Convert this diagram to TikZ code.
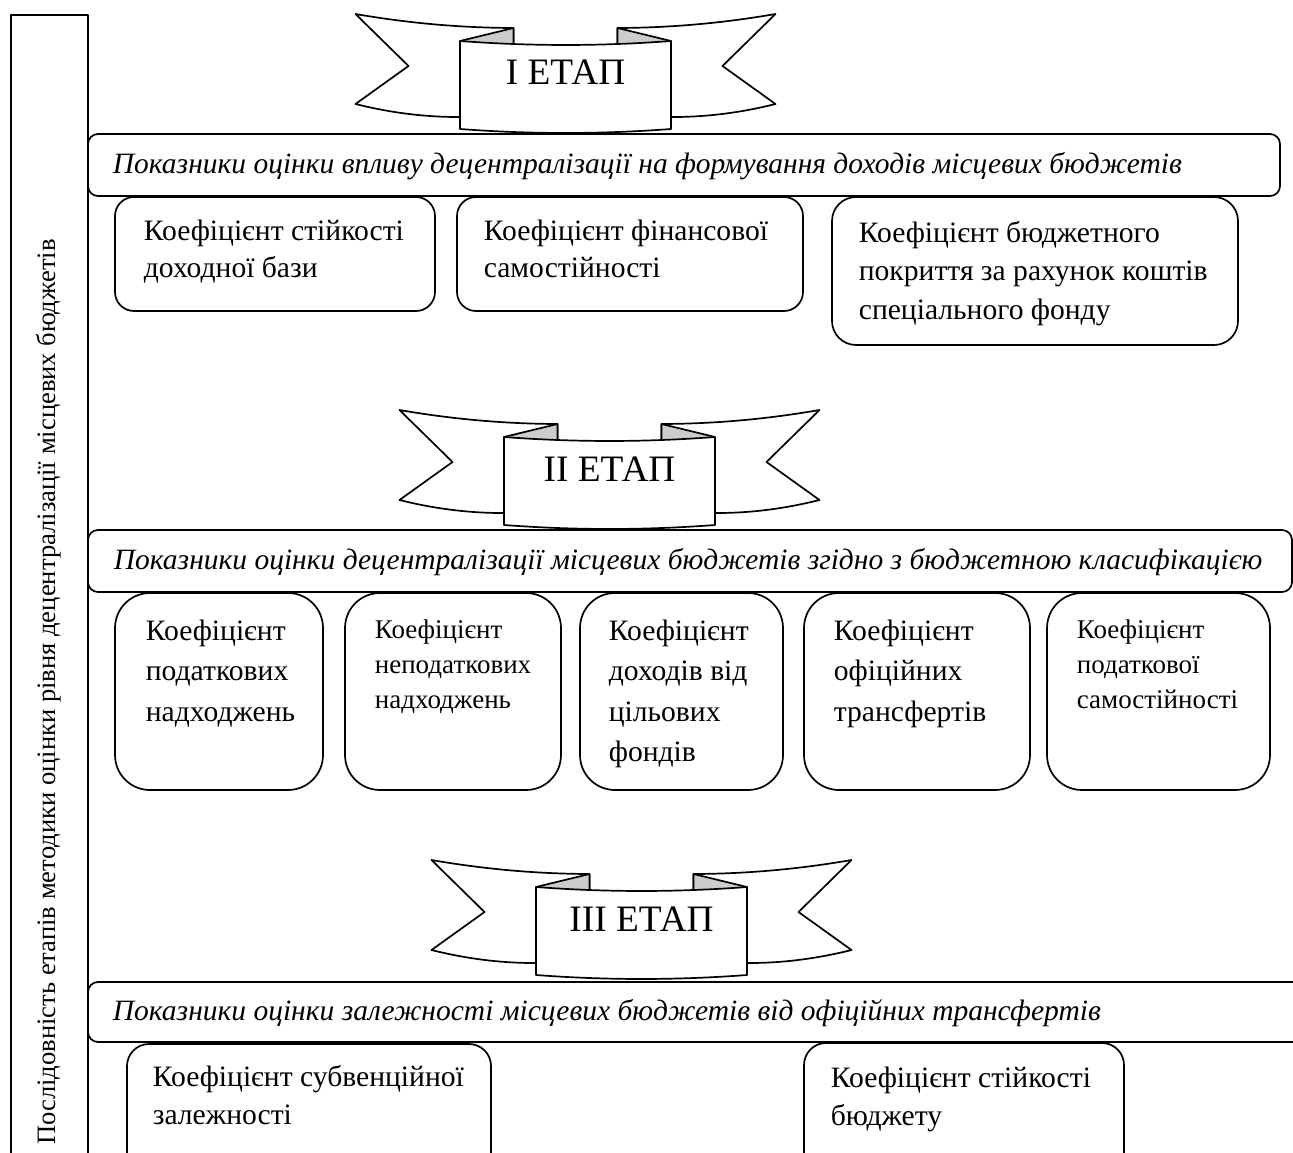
\documentclass[tikz,border=0pt]{standalone}
\usepackage{fontspec}
\setmainfont{Liberation Serif}
\newcommand\ribbon[4]{%
\begin{scope}[shift={(#1,#2)}]
 \draw[tail] (-210,-27) .. controls (-157,-17.8) and (-105,-13.2) .. (-52,-13) -- (-52,78) -- (-105.5,76) .. controls (-140,76.2) and (-175,71.8) .. (-210,63) -- (-157,25) -- cycle;
 \draw[tail] (210,-27) .. controls (157,-17.8) and (105,-13.2) .. (52,-13) -- (52,78) -- (105.5,76) .. controls (140,76.2) and (175,71.8) .. (210,63) -- (157,25) -- cycle;
 \draw[fold] (-105.5,0) -- (-52,-13) -- (-52,10) -- cycle;
 \draw[fold] (105.5,0) -- (52,-13) -- (52,10) -- cycle;
 \draw[tail] (-105.5,0) .. controls (-35,5.3) and (35,5.3) .. (105.5,0) -- (105.5,88) .. controls (35,93.3) and (-35,93.3) .. (-105.5,88) -- cycle;
 \node[btext] (#3) at (0,44) {#4};
\end{scope}}
\begin{document}
\begin{tikzpicture}[x=1pt,y=-1pt,line width=1.7pt,line join=round]
\tikzset{
 tail/.style={draw, fill=white, line width=1.7pt},
 fold/.style={draw, fill=black!20, line width=1.7pt},
 ktext/.style={anchor=base west, inner sep=0pt, align=left, font=\fontsize{29.6}{37.5}\selectfont},
 ktextc/.style={anchor=base west, inner sep=0pt, align=left, font=\fontsize{29.6}{38.5}\selectfont},
 ktextb/.style={anchor=base west, inner sep=0pt, align=left, font=\fontsize{29.6}{40.5}\selectfont},
 ksmall/.style={anchor=base west, inner sep=0pt, align=left, font=\fontsize{27}{35}\selectfont},
 htext/.style={anchor=base west, inner sep=0pt, font=\fontsize{29.5}{34}\selectfont\itshape},
 btext/.style={anchor=base, inner sep=0pt, font=\fontsize{37.3}{40}\selectfont},
 vtext/.style={anchor=base, inner sep=0pt, rotate=90, font=\fontsize{26.6}{32}\selectfont},
}
\useasboundingbox (0,0) rectangle (1293,1153);
\clip (0,0) rectangle (1293,1153);
\fill[white] (0,0) rectangle (1293,1153);

% left frame
\draw (11,15) rectangle (88,1170);
\node[vtext] (seq) at (55,692) {Послідовність етапів методики оцінки рівня децентралізації місцевих бюджетів};

% stage I
\ribbon{565.5}{41}{et1}{I ЕТАП}
\draw[rounded corners=10pt] (88,134) rectangle (1280,196);
\node[htext] (h1) at (112,173) {Показники оцінки впливу децентралізації на формування доходів місцевих бюджетів};
\draw[rounded corners=19pt] (115,197) rectangle (435,311);
\draw[rounded corners=19pt] (457,197) rectangle (803,311);
\draw[rounded corners=24pt] (832,197) rectangle (1238,345);
\node[ktext] (b1) at (143,277.5) {Коефіцієнт стійкості\\доходної бази};
\node[ktext] (b2) at (483,277.5) {Коефіцієнт фінансової\\самостійності};
\node[ktextc] (b3) at (858,319) {Коефіцієнт бюджетного\\покриття за рахунок коштів\\спеціального фонду};

% stage II
\ribbon{609.5}{437}{et2}{II ЕТАП}
\draw[rounded corners=10pt] (88,530) rectangle (1292,592);
\node[htext] (h2) at (113,569) {Показники оцінки децентралізації місцевих бюджетів згідно з бюджетною класифікацією};
\draw[rounded corners=35pt] (115,593) rectangle (323,790);
\draw[rounded corners=35pt] (345,593) rectangle (561,790);
\draw[rounded corners=35pt] (580,593) rectangle (783,790);
\draw[rounded corners=35pt] (804,593) rectangle (1030,790);
\draw[rounded corners=35pt] (1047,593) rectangle (1270,790);
\node[ktextb] (c1) at (145,721) {Коефіцієнт\\податкових\\надходжень};
\node[ksmall] (c2) at (374,708) {Коефіцієнт\\неподаткових\\надходжень};
\node[ktextb] (c3) at (608,761.5) {Коефіцієнт\\доходів від\\цільових\\фондів};
\node[ktextb] (c4) at (833,721) {Коефіцієнт\\офіційних\\трансфертів};
\node[ksmall] (c5) at (1076,708) {Коефіцієнт\\податкової\\самостійності};

% stage III
\ribbon{641.5}{887}{et3}{III ЕТАП}
\draw[rounded corners=10pt] (88,982) rectangle (1320,1042);
\node[htext] (h3) at (112,1020) {Показники оцінки залежності місцевих бюджетів від офіційних трансфертів};
\draw[rounded corners=22pt] (127,1044) rectangle (491,1175);
\draw[rounded corners=22pt] (804,1043) rectangle (1124,1175);
\node[ktext] (d1) at (152,1124) {Коефіцієнт субвенційної\\залежності};
\node[ktext] (d2) at (830,1125) {Коефіцієнт стійкості\\бюджету};
\end{tikzpicture}
\end{document}
